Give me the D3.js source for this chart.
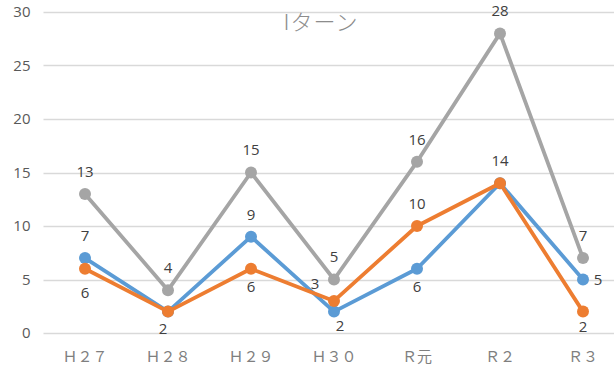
<!DOCTYPE html>
<html>
<head>
<meta charset="utf-8">
<script src="https://cdn.jsdelivr.net/npm/d3@7"></script>
<style>
  html, body { margin: 0; padding: 0; background: #fff; }
  svg { display: block; }
</style>
</head>
<body>
<svg id="chart" width="614" height="373"></svg>
<script>
// Category labels (fiscal years) and y-axis ticks
const categories = ["Ｈ２７", "Ｈ２８", "Ｈ２９", "Ｈ３０", "Ｒ元", "Ｒ２", "Ｒ３"];
const yTicks = [0, 5, 10, 15, 20, 25, 30];

// Series values
const blueValues = [7, 2, 9, 2, 6, 14, 5];
const orangeValues = [6, 2, 6, 3, 10, 14, 2];
const grayValues = [13, 4, 15, 5, 16, 28, 7];

// Where each data label sits relative to its point
const bluePos = ["above", "none", "above", "belowRight", "belowMid", "above", "right"];
const orangePos = ["below", "belowLeft", "belowMid", "upLeft", "above", "none", "belowNear"];
const grayPos = ["above", "above", "above", "above", "above", "above", "above"];

const series = [
  { values: blueValues, pos: bluePos, color: "#5B9BD5" },
  { values: orangeValues, pos: orangePos, color: "#ED7D31" },
  { values: grayValues, pos: grayPos, color: "#A5A5A5" }
];

const svg = d3.select("#chart");
const plotLeft = 43.5, plotRight = 624.5, plotTop = 12, plotBottom = 333;

const x = d3.scaleBand().domain(categories).range([plotLeft, plotRight]);
const y = d3.scaleLinear().domain([0, 30]).range([plotBottom, plotTop]);

// Gridlines
svg.append("g")
  .selectAll("line")
  .data(yTicks)
  .join("line")
  .attr("x1", plotLeft).attr("x2", 614)
  .attr("y1", d => Math.round(y(d)) + 0.5)
  .attr("y2", d => Math.round(y(d)) + 0.5)
  .attr("stroke", "#D9D9D9")
  .attr("stroke-width", 1.5);

// Y axis labels
const yAxis = d3.axisLeft(y).tickValues(yTicks).tickSize(0).tickPadding(13);
svg.append("g")
  .attr("transform", `translate(${plotLeft},0)`)
  .call(yAxis)
  .call(g => g.select(".domain").remove())
  .call(g => g.selectAll("text")
    .attr("fill", "#595959")
    .style("font-family", "'Open Sans', 'Noto Sans', sans-serif")
    .style("font-size", "15px"));

// X axis labels
const xAxis = d3.axisBottom(x).tickSize(0).tickPadding(18);
svg.append("g")
  .attr("transform", `translate(0,${plotBottom})`)
  .call(xAxis)
  .call(g => g.select(".domain").remove())
  .call(g => g.selectAll("text")
    .attr("fill", "#7F7F7F")
    .style("font-family", "'Noto Sans CJK JP', sans-serif")
    .style("font-size", "15px"));

// Title
svg.append("text")
  .attr("x", 321).attr("y", 30)
  .attr("text-anchor", "middle")
  .attr("fill", "#8C8C8C")
  .style("font-family", "'Noto Sans CJK JP', sans-serif")
  .style("font-weight", "300")
  .style("font-size", "22px")
  .style("letter-spacing", "1px")
  .text("Iターン");

const cx = c => x(c) + x.bandwidth() / 2;
const line = d3.line().x((d, i) => cx(categories[i])).y(d => y(d));

series.forEach(s => {
  const g = svg.append("g");
  g.append("path")
    .datum(s.values)
    .attr("d", line)
    .attr("fill", "none")
    .attr("stroke", s.color)
    .attr("stroke-width", 3.8)
    .attr("stroke-linejoin", "round");
  g.selectAll("circle")
    .data(s.values)
    .join("circle")
    .attr("cx", (d, i) => cx(categories[i]))
    .attr("cy", d => y(d))
    .attr("r", 6)
    .attr("fill", s.color);
});

// Data label placements: [dx, dy of text centre]
const offsets = {
  above: [0, -22.5],
  below: [0, 23.5],
  belowMid: [0, 18],
  belowLeft: [-5, 17],
  belowNear: [0, 14.5],
  upLeft: [-19, -17],
  right: [15, 0],
  belowRight: [6, 13.5]
};
series.forEach(s => {
  svg.append("g")
    .selectAll("text")
    .data(s.values.map((v, i) => ({ v, i, p: s.pos[i] })).filter(d => d.p !== "none"))
    .join("text")
    .attr("x", d => cx(categories[d.i]) + offsets[d.p][0])
    .attr("y", d => y(d.v) + offsets[d.p][1])
    .attr("dy", "0.36em")
    .attr("text-anchor", "middle")
    .attr("fill", "#404040")
    .style("font-family", "'Open Sans', 'Noto Sans', sans-serif")
    .style("font-size", "15px")
    .text(d => d.v);
});
</script>
</body>
</html>
